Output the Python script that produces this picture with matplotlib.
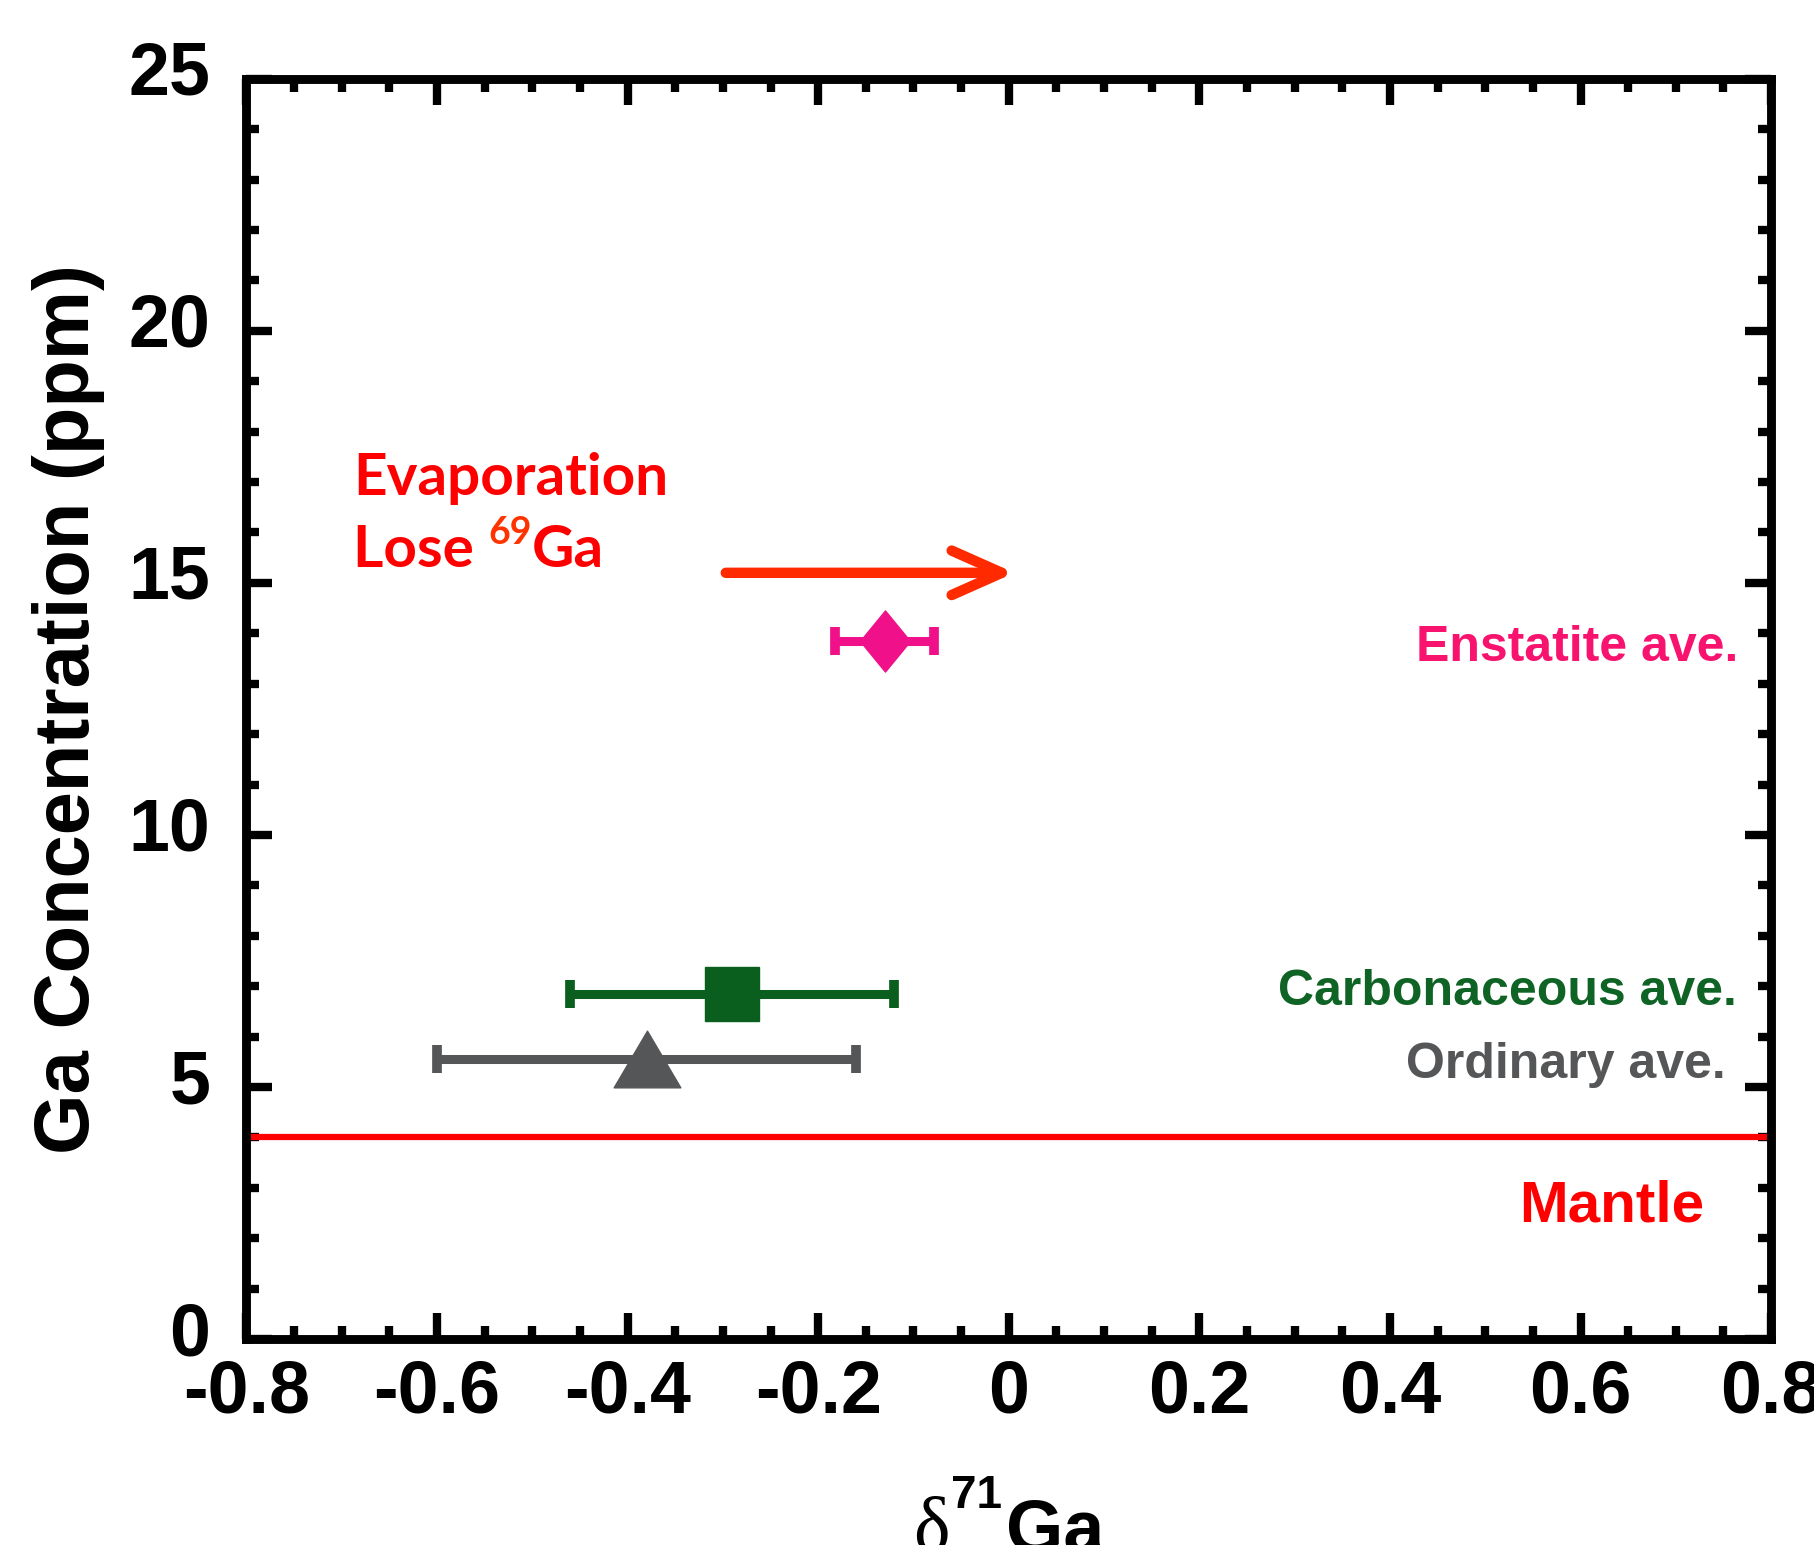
import matplotlib
matplotlib.use("Agg")
import matplotlib.pyplot as plt
from matplotlib.path import Path
from matplotlib.ticker import MultipleLocator
from matplotlib.transforms import ScaledTranslation

# chondrite group averages
groups = ["Enstatite ave.", "Carbonaceous ave.", "Ordinary ave."]
d71ga = [-0.13, -0.29, -0.38]
d71ga_err = [0.052, 0.17, 0.22]
ga_ppm = [13.85, 6.85, 5.55]

mantle_ga = 4.0

# evaporation trend arrow (start -> end in delta71Ga)
evap_x = [-0.297, 0.006]
evap_y = 15.2

SANS = "Liberation Sans"

fig = plt.figure(figsize=(18.15, 15.45), dpi=100)
ax = fig.add_axes([0.1358, 0.1333, 0.8400, 0.8157])

# marker shapes
diamond = Path([(0, 1), (0.82, 0), (0, -1), (-0.82, 0), (0, 1)],
               [Path.MOVETO, Path.LINETO, Path.LINETO, Path.LINETO, Path.CLOSEPOLY])
triangle = Path([(0, 0.85), (1, -0.85), (-1, -0.85), (0, 0.85)],
                [Path.MOVETO, Path.LINETO, Path.LINETO, Path.CLOSEPOLY])

styles = [
    dict(marker=diamond, ms=44, color="#f0118a"),
    dict(marker="s", ms=39, color="#0b5f1e"),
    dict(marker=triangle, ms=48, color="#555658"),
]

for x, xe, y, st in zip(d71ga, d71ga_err, ga_ppm, styles):
    ax.errorbar(x, y, xerr=xe, fmt="none", ecolor=st["color"], elinewidth=6.5,
                capsize=10, capthick=7, zorder=3)
    ax.plot(x, y, linestyle="none", marker=st["marker"], ms=st["ms"],
            color=st["color"], mec=st["color"], zorder=4)

# mantle value
ax.axhline(mantle_ga, color="#ff0000", lw=4.5, zorder=2)

# evaporation arrow
ax.annotate("", xy=(evap_x[1], evap_y), xytext=(evap_x[0], evap_y),
            arrowprops=dict(arrowstyle="->,head_length=1.8,head_width=0.8",
                            color="#ff2a00", lw=7.5, mutation_scale=20,
                            shrinkA=0, shrinkB=0, capstyle="round",
                            joinstyle="round"))

# group labels
ax.text(0.766, 13.45, groups[0], ha="right", va="baseline", color="#f8136f",
        fontsize=36, fontweight="bold", family=SANS)
ax.text(0.764, 6.62, groups[1], ha="right", va="baseline", color="#0e6325",
        fontsize=36, fontweight="bold", family=SANS)
ax.text(0.752, 5.18, groups[2], ha="right", va="baseline", color="#555658",
        fontsize=36, fontweight="bold", family=SANS)
ax.text(0.730, 2.33, "Mantle", ha="right", va="baseline", color="#ff0000",
        fontsize=42, fontweight="bold", family=SANS)

# evaporation note
ax.text(-0.688, 16.74, "Evaporation", ha="left", va="baseline", color="#ff0000",
        fontsize=42, fontweight="bold", family="Lato")
lose = ax.text(-0.688, 15.31, "Lose ", ha="left", va="baseline", color="#ff0000",
               fontsize=42, fontweight="bold", family="Lato")
sup = ax.annotate("69", xy=(1, 15.31), xycoords=(lose, "data"),
                  xytext=(0, 17), textcoords="offset points",
                  ha="left", va="baseline", color="#ff3300",
                  fontsize=27, fontweight="bold", family="Lato")
ax.annotate("Ga", xy=(1, 15.31), xycoords=(sup, "data"),
            ha="left", va="baseline", color="#ff0000",
            fontsize=42, fontweight="bold", family="Lato")

# axes
ax.set_xlim(-0.8, 0.8)
ax.set_ylim(0, 25)
ax.xaxis.set_major_locator(MultipleLocator(0.2))
ax.xaxis.set_minor_locator(MultipleLocator(0.05))
ax.yaxis.set_major_locator(MultipleLocator(5))
ax.yaxis.set_minor_locator(MultipleLocator(1))
ax.set_xticklabels([f"{v:g}" for v in ax.get_xticks()])
ax.set_yticklabels([f"{v:g}" for v in ax.get_yticks()])

for sp in ax.spines.values():
    sp.set_linewidth(6.4)
ax.tick_params(which="both", direction="in", top=True, right=True, width=6)
ax.tick_params(which="major", length=19)
ax.tick_params(which="minor", length=9.5)
ax.tick_params(axis="x", pad=14)
ax.tick_params(axis="y", pad=26)
for lab in ax.get_xticklabels() + ax.get_yticklabels():
    lab.set_fontsize(53)
    lab.set_fontweight("bold")
    lab.set_family(SANS)
for lab in ax.get_yticklabels():
    lab.set_transform(lab.get_transform() + ScaledTranslation(0, 0.11, fig.dpi_scale_trans))

ax.set_ylabel("Ga Concentration (ppm)", fontsize=56, fontweight="bold",
              family=SANS, labelpad=17)

# x label: delta (serif) + superscript 71 + Ga
dl = fig.text(913 / 1815, -0.004, "\u03b4", ha="left", va="baseline",
              fontsize=56, family="Liberation Serif", color="black")
sup71 = plt.annotate("71", xy=(1, -0.004), xycoords=(dl, "figure fraction"),
                     xytext=(1, 31), textcoords="offset points",
                     ha="left", va="baseline", fontsize=33, fontweight="bold",
                     family=SANS, annotation_clip=False)
plt.annotate("Ga", xy=(1, -0.004), xycoords=(sup71, "figure fraction"),
             xytext=(3, 0), textcoords="offset points",
             ha="left", va="baseline", fontsize=53, fontweight="bold",
             family=SANS, annotation_clip=False)

fig.savefig("out.png", dpi=100)
